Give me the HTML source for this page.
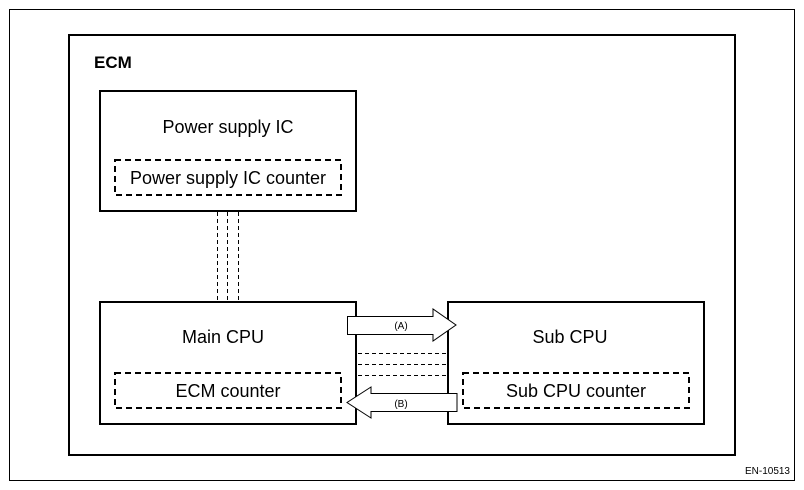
<!DOCTYPE html>
<html><head><style>body{margin:0;background:#fff}svg{display:block}</style></head><body>
<svg width="804" height="490" viewBox="0 0 804 490" xmlns="http://www.w3.org/2000/svg" font-family="Liberation Sans, sans-serif">
<rect x="9.5" y="9.5" width="785" height="471" fill="none" stroke="#000" stroke-width="1"/>
<rect x="69" y="35" width="666" height="420" fill="none" stroke="#000" stroke-width="2"/>
<text x="94" y="68" font-size="17" font-weight="bold">ECM</text>
<g fill="none" stroke="#000" stroke-width="2">
<rect x="100" y="91" width="256" height="120"/>
<rect x="100" y="302" width="256" height="122"/>
<rect x="448" y="302" width="256" height="122"/>
</g>
<g fill="none" stroke="#000" stroke-width="2" stroke-dasharray="6,4">
<rect x="115" y="160" width="226" height="35"/>
<rect x="115" y="373" width="226" height="35"/>
<rect x="463" y="373" width="226" height="35"/>
</g>
<g stroke="#000" stroke-width="1" stroke-dasharray="4,3">
<line x1="217.5" y1="212" x2="217.5" y2="301"/>
<line x1="227.5" y1="212" x2="227.5" y2="301"/>
<line x1="238.5" y1="212" x2="238.5" y2="301"/>
<line x1="358" y1="353.5" x2="447" y2="353.5"/>
<line x1="358" y1="364.5" x2="447" y2="364.5"/>
<line x1="358" y1="375.5" x2="447" y2="375.5"/>
</g>
<polygon points="347.5,316.5 433,316.5 433,309 456,325 433,341 433,334.5 347.5,334.5" fill="#fff" stroke="#000" stroke-width="1"/>
<polygon points="457,393.5 371,393.5 371,387 347,402.5 371,418 371,411.5 457,411.5" fill="#fff" stroke="#000" stroke-width="1"/>
<text x="401" y="329" font-size="10" text-anchor="middle">(A)</text>
<text x="401" y="407" font-size="10" text-anchor="middle">(B)</text>
<g font-size="18" text-anchor="middle">
<text x="228" y="133">Power supply IC</text>
<text x="228" y="184">Power supply IC counter</text>
<text x="223" y="343">Main CPU</text>
<text x="228" y="397">ECM counter</text>
<text x="570" y="343">Sub CPU</text>
<text x="576" y="397">Sub CPU counter</text>
</g>
<text x="790" y="474" font-size="10" text-anchor="end">EN-10513</text>
</svg>
</body></html>
